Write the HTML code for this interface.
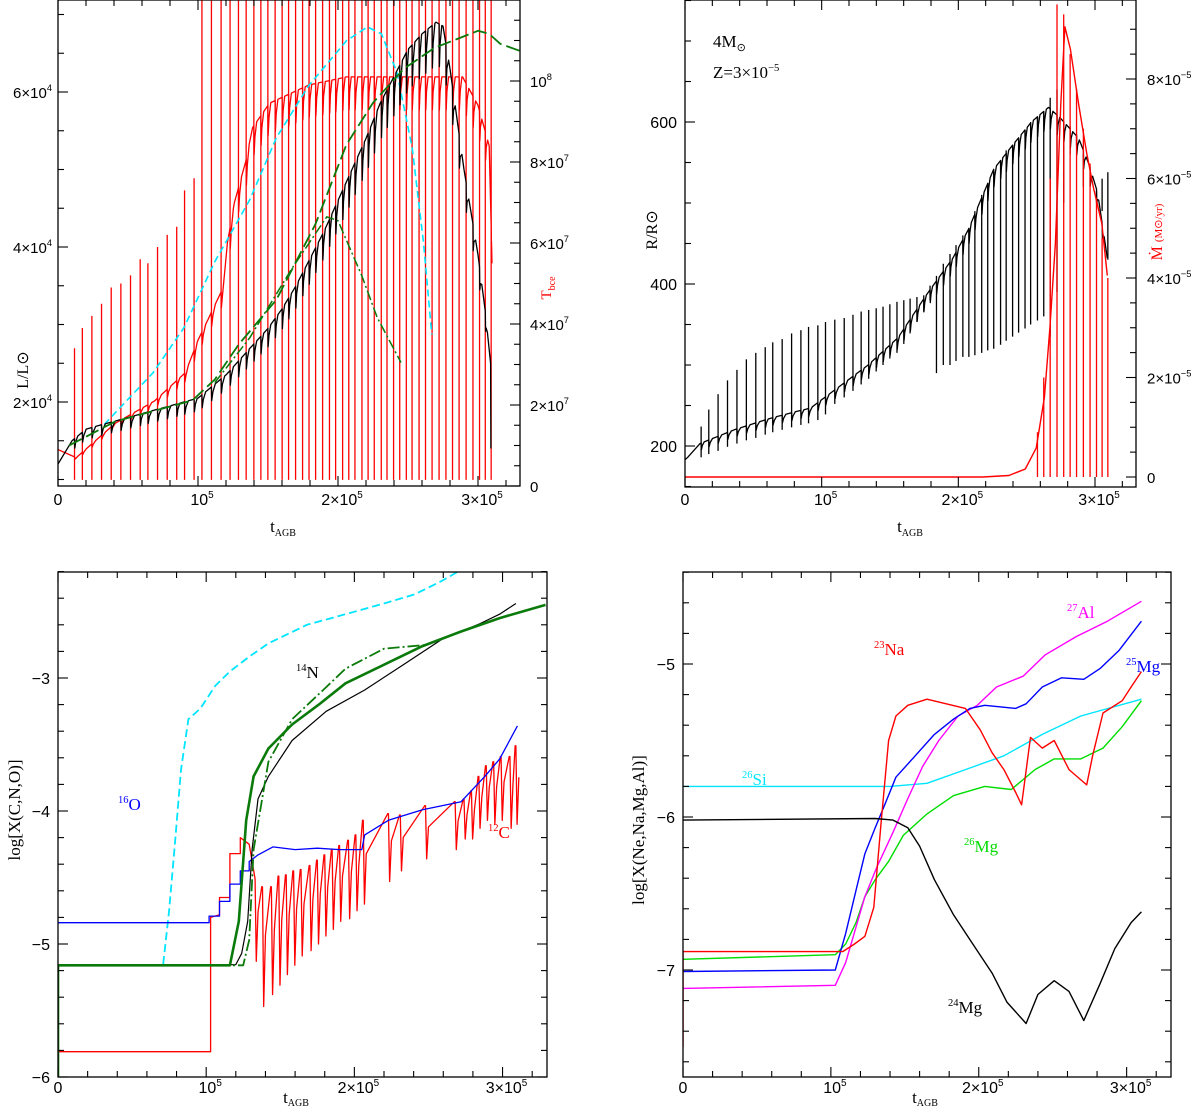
<!DOCTYPE html>
<html><head><meta charset="utf-8">
<style>
html,body{margin:0;padding:0;background:#fff;}
svg{display:block;}
text{font-family:"Liberation Sans",sans-serif;}
.ser{font-family:"Liberation Serif",serif;}
</style></head>
<body>
<svg id="fig" width="1200" height="1107" viewBox="0 0 1200 1107" xmlns="http://www.w3.org/2000/svg"></svg>
<script>
// ---------- DATA (t in units of 1e5 yr) ----------
const pulseT = [0.118,0.174,0.242,0.311,0.380,0.449,0.518,0.587,0.642,0.711,0.780,0.848,0.904,0.972,1.028,1.096,1.165,1.229,1.289,1.344,1.399,1.449,1.499,1.551,1.601,1.647,1.697,1.747,1.793,1.840,1.890,1.939,1.983,2.033,2.077,2.121,2.171,2.215,2.259,2.309,2.350,2.397,2.441,2.488,2.529,2.579,2.625,2.672,2.722,2.771,2.818,2.865,2.915,2.964,3.011,3.052,3.094];
const tSpikeTop = [3.4,3.9,4.2,4.5,4.9,5.0,5.2,5.6,5.5,5.9,6.2,6.4,7.3,7.6,12,12,12,12,12,12,12,12,12,12,12,12,12,12,12,12,12,12,12,12,12,12,12,12,12,12,12,12,12,12,12,12,12,12,12,12,12,12,12,12,12,12,12];
const lumT = [0,0.1,0.2,0.4,0.6,0.8,1.0,1.1,1.2,1.3,1.4,1.5,1.6,1.7,1.8,1.9,2.0,2.1,2.2,2.3,2.4,2.5,2.6,2.7,2.75,2.8,2.9,3.0,3.05,3.09];
const lumV = [1.2,1.5,1.65,1.75,1.85,1.95,2.05,2.2,2.35,2.55,2.75,2.95,3.2,3.5,3.85,4.2,4.6,5.0,5.4,5.85,6.2,6.55,6.75,6.9,6.85,6.3,5.0,3.9,3.2,2.5];
const tbceT = [0,0.13,0.41,0.69,0.91,1.0,1.07,1.18,1.21,1.26,1.34,1.39,1.51,1.79,2.06,2.89,3.0,3.08,3.1];
const tbceV = [0.9,0.7,1.55,2.1,2.8,3.6,4.1,4.9,6.0,7.0,8.0,8.85,9.45,9.9,10.1,10.1,9.4,8.4,5.5];
const gDashT = [0.08,0.41,0.96,1.12,1.29,1.56,1.84,2.06,2.25,2.47,2.69,3.0,3.08,3.16,3.30];
const gDashV = [1.44,1.75,2.02,2.29,2.74,3.32,4.30,5.32,5.86,6.30,6.57,6.79,6.75,6.62,6.53];
const gDotT = [1.12,1.37,1.67,1.92,2.0,2.17,2.28,2.45];
const gDotV = [2.25,2.83,3.72,4.39,4.34,3.63,3.09,2.51];
const cyT = [0.33,0.68,0.90,1.12,1.37,1.56,1.79,2.06,2.21,2.31,2.42,2.53,2.61,2.67];
const cyV = [1.71,2.38,2.96,3.81,4.61,5.41,6.08,6.66,6.84,6.75,6.26,5.28,4.07,2.87];
const radT = [0,0.02,0.11,0.36,0.64,0.92,1.11,1.34,1.56,1.76,1.96,2.07,2.26,2.40,2.54,2.66,2.74,2.88,2.96,3.02,3.09];
const radV = [183,186,203,220,235,247,271,300,334,385,432,466,542,572,601,618,606,580,546,512,432];
const radHi = [224,245,264,281,294,307,315,322,328,332,339,343,347,349,353,356,358,362,366,368,370,372,375,378,380,382,384,386,398,410,425,437,448,460,467,490,510,525,540,552,565,572,580,590,600,607,613,630,640,600,595,585,560,540,515,530,538];
const radLo = [186,190,194,199,203,207,210,214,217,220,223,226,228,232,239,252,260,268,276,283,292,300,308,315,326,339,353,365,380,290,300,300,305,310,310,312,315,318,320,325,330,335,340,345,350,355,360,335,390,500,560,570,520,520,500,490,430];
const mdotT = [0,2.18,2.37,2.49,2.57,2.63,2.67,2.71,2.75,2.78,2.82,2.88,2.94,2.99,3.05,3.09];
const mdotV = [0,0,0.03,0.16,0.58,1.6,3.0,4.7,7.5,9.05,8.6,7.5,6.5,5.8,5.1,4.05];
const mdotSpikeT = [2.579,2.625,2.672,2.722,2.771,2.818,2.865,2.915,2.964,3.011,3.052,3.094];
const mdotSpikeTop = [0.9,2.0,6.0,9.5,9.3,8.5,7.8,7.0,6.3,5.6,4.8,4.0];
const oT = [0,1.02,1.02,1.09,1.09,1.16,1.16,1.23,1.23,1.29,1.29,1.35,1.45,1.6,1.75,1.9,2.05,2.07,2.23,2.46,2.72,2.88,2.98,3.10];
const oV = [-4.84,-4.84,-4.79,-4.79,-4.68,-4.68,-4.55,-4.55,-4.45,-4.45,-4.38,-4.33,-4.27,-4.29,-4.28,-4.29,-4.29,-4.18,-4.07,-3.99,-3.93,-3.74,-3.61,-3.36];
const cStepT = [0,1.03,1.03,1.09,1.09,1.16,1.16,1.23,1.23,1.29];
const cStepV = [-5.81,-5.81,-4.8,-4.78,-4.65,-4.65,-4.32,-4.32,-4.2,-4.25];
const cPulseT = [1.33,1.38,1.44,1.49,1.54,1.59,1.64,1.70,1.75,1.80,1.85,1.90,1.96,2.01,2.06,2.23,2.31,2.48,2.68,2.74,2.79,2.84,2.89,2.94,2.99,3.05,3.09];
const cPulseTop = [-4.51,-4.57,-4.57,-4.49,-4.48,-4.45,-4.44,-4.41,-4.37,-4.33,-4.29,-4.26,-4.22,-4.18,-4.07,-4.02,-4.03,-3.96,-3.93,-3.91,-3.85,-3.74,-3.66,-3.63,-3.59,-3.59,-3.51];
const cPulseBot = [-5.13,-5.47,-5.38,-5.31,-5.23,-5.16,-5.09,-5.05,-5.0,-4.94,-4.89,-4.83,-4.81,-4.75,-4.7,-4.53,-4.45,-4.36,-4.29,-4.21,-4.21,-4.13,-4.07,-4.1,-4.07,-4.13,-4.1];
const nT = [0,1.2,1.24,1.28,1.31,1.35,1.42,1.58,1.81,2.07,2.33,2.59,2.85,2.98,3.09];
const nV = [-5.16,-5.155,-5.07,-4.83,-4.29,-3.91,-3.74,-3.47,-3.25,-3.09,-2.90,-2.71,-2.59,-2.52,-2.44];
const gSolT = [0,0,1.16,1.22,1.27,1.32,1.42,1.58,1.76,1.94,2.2,2.46,2.72,2.98,3.29];
const gSolV = [-6,-5.16,-5.16,-4.83,-4.07,-3.74,-3.53,-3.35,-3.2,-3.04,-2.9,-2.76,-2.65,-2.55,-2.45];
const gDdT = [0,1.25,1.29,1.32,1.42,1.58,1.79,1.94,2.2,2.49];
const gDdV = [-5.16,-5.16,-4.97,-4.29,-3.63,-3.31,-3.09,-2.93,-2.78,-2.75];
const cyNT = [0.71,0.75,0.79,0.83,0.88,0.96,1.06,1.16,1.29,1.42,1.68,1.94,2.2,2.41,2.59,2.7];
const cyNV = [-5.15,-4.75,-4.23,-3.69,-3.31,-3.23,-3.06,-2.95,-2.84,-2.74,-2.6,-2.52,-2.44,-2.37,-2.27,-2.2];
const mg24T = [0,1.3,1.42,1.52,1.6,1.7,1.83,1.96,2.09,2.19,2.32,2.4,2.51,2.61,2.71,2.82,2.92,3.03,3.1];
const mg24V = [-6.02,-6.01,-6.02,-6.07,-6.19,-6.41,-6.64,-6.83,-7.02,-7.21,-7.35,-7.16,-7.07,-7.14,-7.33,-7.09,-6.86,-6.69,-6.62];
const naT = [0,0,1.05,1.08,1.16,1.23,1.29,1.34,1.39,1.44,1.52,1.65,1.78,1.91,2.01,2.09,2.17,2.25,2.29,2.35,2.43,2.51,2.61,2.73,2.77,2.84,2.97,3.03,3.1];
const naV = [-7.5,-6.88,-6.88,-6.88,-6.83,-6.78,-6.59,-6.03,-5.5,-5.34,-5.27,-5.23,-5.26,-5.29,-5.43,-5.58,-5.69,-5.84,-5.92,-5.48,-5.55,-5.5,-5.69,-5.79,-5.6,-5.32,-5.24,-5.15,-5.05];
const mg26T = [0,1.03,1.1,1.17,1.23,1.3,1.39,1.49,1.65,1.83,2.04,2.22,2.38,2.51,2.69,2.84,2.97,3.1];
const mg26V = [-6.93,-6.9,-6.83,-6.69,-6.52,-6.41,-6.29,-6.12,-5.98,-5.86,-5.8,-5.82,-5.69,-5.62,-5.62,-5.55,-5.41,-5.24];
const mg25T = [0,1.03,1.1,1.17,1.23,1.3,1.36,1.44,1.57,1.7,1.83,1.94,2.04,2.25,2.32,2.43,2.56,2.71,2.82,2.95,3.1];
const mg25V = [-7.01,-7.0,-6.76,-6.48,-6.24,-6.07,-5.93,-5.74,-5.6,-5.46,-5.36,-5.29,-5.27,-5.29,-5.26,-5.15,-5.09,-5.1,-5.03,-4.91,-4.72];
const alT = [0,1.03,1.1,1.23,1.31,1.42,1.52,1.62,1.73,1.86,1.99,2.12,2.3,2.45,2.66,2.87,3.1];
const alV = [-7.12,-7.1,-6.95,-6.52,-6.33,-6.1,-5.88,-5.67,-5.5,-5.34,-5.27,-5.15,-5.08,-4.94,-4.82,-4.72,-4.59];
const siT = [0,1.4,1.65,1.91,2.17,2.43,2.69,3.1];
const siV = [-5.8,-5.8,-5.78,-5.69,-5.6,-5.46,-5.34,-5.23];

// ---------- helpers ----------
const NS = 'http://www.w3.org/2000/svg';
const svg = document.getElementById('fig');
function el(tag, attrs, parent) {
  const e = document.createElementNS(NS, tag);
  for (const k in attrs) e.setAttribute(k, attrs[k]);
  (parent || svg).appendChild(e);
  return e;
}
function lin(d0, d1, r0, r1) { return v => r0 + (v - d0) * (r1 - r0) / (d1 - d0); }
function interp(ts, vs, t) {
  if (t <= ts[0]) return vs[0];
  for (let i = 1; i < ts.length; i++) if (t <= ts[i]) return vs[i-1] + (vs[i]-vs[i-1]) * (t-ts[i-1]) / (ts[i]-ts[i-1]);
  return vs[vs.length-1];
}
function pathD(ts, vs, sx, sy) {
  return ts.map((t, i) => (i ? 'L' : 'M') + sx(t).toFixed(1) + ',' + sy(vs[i]).toFixed(1)).join('');
}
function pulsedD(envT, envV, pulses, frac, sx, sy) {
  const t0 = envT[0], t1 = envT[envT.length-1];
  const pts = [[t0, envV[0]]];
  const ps = pulses.filter(p => p > t0 && p < t1);
  let prev = t0;
  ps.forEach((p, i) => {
    envT.forEach((k, j) => { if (k > prev && k < p) pts.push([k, envV[j]]); });
    const e = interp(envT, envV, p);
    const gap = (i + 1 < ps.length ? ps[i+1] : t1) - p;
    pts.push([p, e]);
    pts.push([p + 0.002, e * (1 - frac)]);
    pts.push([p + gap * 0.15, interp(envT, envV, p + gap*0.15) * (1 - frac*0.45)]);
    pts.push([p + gap * 0.4, interp(envT, envV, p + gap*0.4)]);
    prev = p + gap * 0.4;
  });
  envT.forEach((k, j) => { if (k > prev) pts.push([k, envV[j]]); });
  return pts.map((q, i) => (i ? 'L' : 'M') + sx(q[0]).toFixed(1) + ',' + sy(q[1]).toFixed(1)).join('');
}
function sup(parent, base, exp, x, y, anchor, size, color, cls) {
  const t = el('text', {x: x, y: y, 'text-anchor': anchor || 'middle', 'font-size': size || 16, fill: color || '#000'}, parent);
  if (cls) t.setAttribute('class', cls);
  t.appendChild(document.createTextNode(base));
  if (exp) {
    const s = el('tspan', {dy: -7, 'font-size': (size || 16) * 0.62}, t);
    s.textContent = exp;
  }
  return t;
}
function frame(g, x0, x1, y0, y1) {
  const r = el('rect', {x: x0, y: y0, width: x1-x0, height: y1-y0, fill: 'none', stroke: '#000', 'stroke-width': 1.3}, g);
  
  
}
function xTicks(g, sx, y0, y1, labelY) {
  for (let v = 0; v <= 3.3001; v += 0.2) {
    const major = Math.abs(v - Math.round(v)) < 1e-6;
    const L = major ? 10 : 6;
    el('line', {x1: sx(v), x2: sx(v), y1: y1, y2: y1 - L, stroke: '#000', 'stroke-width': 1.1}, g);
    el('line', {x1: sx(v), x2: sx(v), y1: y0, y2: y0 + L, stroke: '#000', 'stroke-width': 1.1}, g);
  }
  const labs = [['0', ''], ['10', '5'], ['2×10', '5'], ['3×10', '5']];
  labs.forEach((lb, i) => {
    const t = sup(g, lb[0], lb[1], sx(i) + (i ? 4 : 0), labelY, 'middle', 16);
    
    
  });
}
function yTicks(g, sy, x0, x1, vmin, vmax, step, majorStep, side) {
  const n = Math.round((vmax - vmin) / step);
  for (let i = 0; i <= n; i++) {
    const v = vmin + i * step;
    const major = Math.abs(v / majorStep - Math.round(v / majorStep)) < 1e-6;
    const L = major ? 10 : 6;
    if (side !== 'right') el('line', {x1: x0, x2: x0 + L, y1: sy(v), y2: sy(v), stroke: '#000', 'stroke-width': 1.1}, g);
    if (side !== 'left') el('line', {x1: x1, x2: x1 - L, y1: sy(v), y2: sy(v), stroke: '#000', 'stroke-width': 1.1}, g);
  }
}
function addPath(g, d, color, w, dash) {
  const p = el('path', {d: d, fill: 'none', stroke: color, 'stroke-width': w, 'stroke-linejoin': 'round'}, g);
  if (dash) p.setAttribute('stroke-dasharray', dash);
  return p;
}
function rotLabel(g, x, y, color, size, cls) {
  const t = el('text', {x: 0, y: 0, transform: 'translate(' + x + ',' + y + ') rotate(-90)', 'text-anchor': 'middle', 'font-size': size, fill: color}, g);
  if (cls) t.setAttribute('class', cls);
  return t;
}

// ================= PANEL 1 =================
(function() {
  const g = el('g', {});
  
  
  const X0 = 58, X1 = 520, Y0 = 0, Y1 = 486;
  const sx = lin(0, 3.3, X0, X1);
  const sy = v => 92 + (6 - v) * 77.5;
  const sT = v => 486 - v * 40.5;
  const clip = el('clipPath', {id: 'c1'}, g);
  el('rect', {x: X0, y: Y0, width: X1-X0, height: Y1-Y0}, clip);
  const d = el('g', {'clip-path': 'url(#c1)'}, g);
  pulseT.forEach((p, i) => {
    const ln = el('line', {x1: sx(p), x2: sx(p), y1: sT(0.15), y2: sT(tSpikeTop[i]), stroke: '#ff0000', 'stroke-width': 1.3}, d);
    
    
  });
  const red = addPath(d, pulsedD(tbceT, tbceV, pulseT, 0.08, sx, sT), '#ff0000', 1.3);
  
  
  const cy = addPath(d, pathD(cyT, cyV, sx, sy), '#00e5ff', 1.6, '7,4');
  
  
  const bl = addPath(d, pulsedD(lumT, lumV, pulseT, 0.08, sx, sy) + 'L' + sx(3.092) + ',' + sy(1.4), '#000', 1.3);
  
  
  const gd = addPath(d, pathD(gDashT, gDashV, sx, sy), '#0a7a0a', 1.8, '14,5');
  
  
  const gdd = addPath(d, pathD(gDotT, gDotV, sx, sy), '#0a7a0a', 1.5, '10,3,2,3');
  
  
  frame(g, X0, X1, Y0, Y1);
  xTicks(g, sx, Y0, Y1, 505);
  yTicks(g, sy, X0, X1, 1.0, 7.0, 0.5, 2, 'left');
  yTicks(g, sT, X0, X1, 0, 12, 0.5, 2, 'right');
  [[2,'2×10'],[4,'4×10'],[6,'6×10']].forEach(a => {
    const t = sup(g, a[1], '4', X0 - 6, sy(a[0]) + 6, 'end', 15);
    
    
  });
  [[0,'0',''],[2,'2×10','7'],[4,'4×10','7'],[6,'6×10','7'],[8,'8×10','7'],[10,'10','8']].forEach(a => {
    const t = sup(g, a[1], a[2], X1 + 10, sT(a[0]) + 6, 'start', 15);
    
    
  });
  const yl = rotLabel(g, 28, 370, '#000', 16, 'ser');
  yl.textContent = 'L/L⊙';
  
  
  const tl = rotLabel(g, 551, 288, '#ff0000', 15, 'ser');
  tl.textContent = 'T';
  const ts = el('tspan', {'font-size': 10, dy: 4}, tl); ts.textContent = 'bce';
  
  
  const xt = sup(g, 't', '', 283, 532, 'middle', 17, '#000', 'ser');
  const xs = el('tspan', {'font-size': 10, dy: 4}, xt); xs.textContent = 'AGB';
  
  
})();

// ================= PANEL 2 =================
(function() {
  const g = el('g', {});
  
  
  const X0 = 685, X1 = 1136, Y0 = 0, Y1 = 487;
  const sx = lin(0, 3.3, X0, X1);
  const sy = v => 122 + (600 - v) * 0.81;
  const sM = v => 477 - v * 49.75;
  const clip = el('clipPath', {id: 'c2'}, g);
  el('rect', {x: X0, y: Y0, width: X1-X0, height: Y1-Y0}, clip);
  const d = el('g', {'clip-path': 'url(#c2)'}, g);
  const bl = addPath(d, pulsedD(radT, radV, pulseT, 0.04, sx, sy), '#000', 1.3);
  
  
  pulseT.forEach((p, i) => {
    const ln = el('line', {x1: sx(p), x2: sx(p), y1: sy(radLo[i]), y2: sy(radHi[i]), stroke: '#000', 'stroke-width': 1.3}, d);
    
    
  });
  mdotSpikeT.forEach((p, i) => {
    const ln = el('line', {x1: sx(p), x2: sx(p), y1: sM(0), y2: sM(mdotSpikeTop[i]), stroke: '#ff0000', 'stroke-width': 1.3}, d);
    
    
  });
  const red = addPath(d, pathD(mdotT, mdotV, sx, sM), '#ff0000', 1.4);
  
  
  frame(g, X0, X1, Y0, Y1);
  xTicks(g, sx, Y0, Y1, 505);
  yTicks(g, sy, X0, X1, 150, 750, 50, 200, 'left');
  yTicks(g, sM, X0, X1, 0, 9, 0.5, 2, 'right');
  [200, 400, 600].forEach(v => {
    const t = sup(g, String(v), '', X0 - 8, sy(v) + 6, 'end', 16);
    
    
  });
  [[0,'0',''],[2,'2×10','−5'],[4,'4×10','−5'],[6,'6×10','−5'],[8,'8×10','−5']].forEach(a => {
    const t = sup(g, a[1], a[2], X1 + 11, sM(a[0]) + 6, 'start', 15);
    
    
  });
  const m1 = sup(g, '4M', '', 713, 47, 'start', 17, '#000', 'ser');
  const m1s = el('tspan', {'font-size': 11, dy: 4}, m1); m1s.textContent = '⊙';
  
  
  const z = sup(g, 'Z=3×10', '−5', 713, 78, 'start', 17, '#000', 'ser');
  
  
  const yl = rotLabel(g, 657, 230, '#000', 16, 'ser');
  yl.textContent = 'R/R⊙';
  
  
  const ml = rotLabel(g, 1162, 232, '#ff0000', 16, 'ser');
  ml.textContent = 'Ṁ ';
  const mls = el('tspan', {'font-size': 11}, ml); mls.textContent = '(M⊙/yr)';
  
  
  const xt = sup(g, 't', '', 910, 532, 'middle', 17, '#000', 'ser');
  const xs = el('tspan', {'font-size': 10, dy: 4}, xt); xs.textContent = 'AGB';
  
  
})();

// ================= PANEL 3 =================
(function() {
  const g = el('g', {});
  
  
  const X0 = 58, X1 = 547, Y0 = 572, Y1 = 1077;
  const sx = lin(0, 3.3, X0, X1);
  const sy = v => 1077 - (v + 6) * 133;
  const clip = el('clipPath', {id: 'c3'}, g);
  el('rect', {x: X0, y: Y0, width: X1-X0, height: Y1-Y0}, clip);
  const d = el('g', {'clip-path': 'url(#c3)'}, g);
  const cy = addPath(d, pathD(cyNT, cyNV, sx, sy), '#00e5ff', 1.8, '8,4');
  
  
  let cd = pathD(cStepT, cStepV, sx, sy);
  cPulseT.forEach((p, i) => {
    const nxt = i + 1 < cPulseT.length ? cPulseT[i+1] : p + 0.03;
    const top = cPulseTop[i], bot = cPulseBot[i];
    cd += 'L' + sx(p) + ',' + sy(top);
    cd += 'L' + sx(p + 0.008) + ',' + sy(bot);
    cd += 'L' + sx(p + 0.02) + ',' + sy(bot + (top - bot) * 0.6);
    if (i + 1 < cPulseT.length) cd += 'L' + sx(nxt - 0.005) + ',' + sy(cPulseTop[i+1]);
  });
  const c = addPath(d, cd, '#ff0000', 1.3);
  
  
  const o = addPath(d, pathD(oT, oV, sx, sy), '#0000ff', 1.3);
  
  
  const n = addPath(d, pathD(nT, nV, sx, sy), '#000', 1.2);
  
  
  const gs = addPath(d, pathD(gSolT, gSolV, sx, sy), '#0a7a0a', 2.6);
  
  
  const gdd = addPath(d, pathD(gDdT, gDdV, sx, sy), '#0a7a0a', 1.8, '12,3,2,3');
  
  
  frame(g, X0, X1, Y0, Y1);
  xTicks(g, sx, Y0, Y1, 1093);
  yTicks(g, sy, X0, X1, -6, -2.2, 0.2, 1, 'both');
  [-3, -4, -5, -6].forEach(v => {
    const t = sup(g, '−' + Math.abs(v), '', X0 - 8, sy(v) + 6, 'end', 16);
    
    
  });
  const l1 = sup(g, '', '14', 296, 678, 'start', 17, '#000', 'ser');
  const l1b = el('tspan', {dy: 7}, l1); l1b.textContent = 'N';
   
  const l2 = sup(g, '', '16', 118, 810, 'start', 17, '#0000ff', 'ser');
  const l2b = el('tspan', {dy: 7}, l2); l2b.textContent = 'O';
   
  const l3 = sup(g, '', '12', 488, 838, 'start', 17, '#ff0000', 'ser');
  const l3b = el('tspan', {dy: 7}, l3); l3b.textContent = 'C';
   
  const yl = rotLabel(g, 20, 810, '#000', 17, 'ser');
  yl.textContent = 'log[X(C,N,O)]';
  
  
  const xt = sup(g, 't', '', 296, 1103, 'middle', 17, '#000', 'ser');
  const xs = el('tspan', {'font-size': 10, dy: 3}, xt); xs.textContent = 'AGB';
  
  
})();

// ================= PANEL 4 =================
(function() {
  const g = el('g', {});
  
  
  const X0 = 683, X1 = 1171, Y0 = 572, Y1 = 1077;
  const sx = lin(0, 3.3, X0, X1);
  const sy = v => 817 - (v + 6) * 153;
  const clip = el('clipPath', {id: 'c4'}, g);
  el('rect', {x: X0, y: Y0, width: X1-X0, height: Y1-Y0}, clip);
  const d = el('g', {'clip-path': 'url(#c4)'}, g);
  const series = [
    [siT, siV, '#00e5ff', 'si28-line'],
    [mg26T, mg26V, '#00dd00', 'mg26-line'],
    [alT, alV, '#ff00ff', 'al27-line'],
    [mg25T, mg25V, '#0000ff', 'mg25-line'],
    [naT, naV, '#ff0000', 'na23-line'],
    [mg24T, mg24V, '#000000', 'mg24-line']
  ];
  series.forEach(s => {
    const p = addPath(d, pathD(s[0], s[1], sx, sy), s[2], 1.4);
    
    
  });
  frame(g, X0, X1, Y0, Y1);
  xTicks(g, sx, Y0, Y1, 1093);
  yTicks(g, sy, X0, X1, -7.6, -4.4, 0.2, 1, 'both');
  [-5, -6, -7].forEach(v => {
    const t = sup(g, '−' + Math.abs(v), '', X0 - 8, sy(v) + 6, 'end', 16);
    
    
  });
  const labs = [['27','Al','#ff00ff',1067,618,'al27-label'],['25','Mg','#0000ff',1126,672,'mg25-label'],['23','Na','#ff0000',874,655,'na23-label'],['26','Si','#00e5ff',742,785,'si28-label'],['26','Mg','#00dd00',964,852,'mg26-label'],['24','Mg','#000000',948,1013,'mg24-label']];
  labs.forEach(a => {
    const t = sup(g, '', a[0], a[3], a[4], 'start', 17, a[2], 'ser');
    const b = el('tspan', {dy: 7}, t); b.textContent = a[1];
    
    
  });
  const yl = rotLabel(g, 644, 830, '#000', 17, 'ser');
  yl.textContent = 'log[X(Ne,Na,Mg,Al)]';
  
  
  const xt = sup(g, 't', '', 925, 1103, 'middle', 17, '#000', 'ser');
  const xs = el('tspan', {'font-size': 10, dy: 3}, xt); xs.textContent = 'AGB';
  
  
})();
</script>
</body></html>
